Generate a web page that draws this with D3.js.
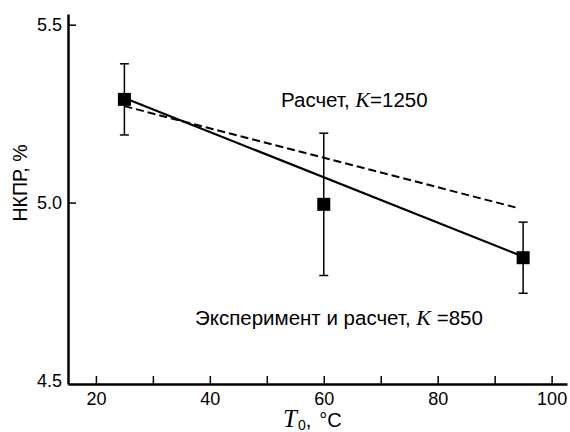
<!DOCTYPE html>
<html>
<head>
<meta charset="utf-8">
<script src="https://cdn.jsdelivr.net/npm/d3@7"></script>
<style>
  body { margin: 0; background: #fff; }
  svg { display: block; font-family: "Liberation Sans", Arial, sans-serif; }
  .k { font-family: "Liberation Serif", "Times New Roman", serif; font-style: italic; }
</style>
</head>
<body>
<svg id="chart" width="570" height="432"></svg>
<script>
// Экспериментальные точки
const expT = [25, 60, 95];
const expVal = [5.29, 4.995, 4.845];
const expErr = [0.1, 0.2, 0.1];

// Расчет, K=850 (сплошная)
const calc850T = [25, 95];
const calc850Val = [5.294, 4.848];

// Расчет, K=1250 (пунктир)
const calc1250T = [25, 94];
const calc1250Val = [5.271, 4.985];

const xTicks = [20, 30, 40, 50, 60, 70, 80, 90, 100];
const xTickLabels = [20, 40, 60, 80, 100];
const yTicks = [4.5, 5.0, 5.5];

const svg = d3.select('#chart');

const x = d3.scaleLinear().domain([15.1, 102.7]).range([68, 567]);
const y = d3.scaleLinear().domain([4.49, 5.53]).range([384, 14]);

// Оси
const xAxis = d3.axisBottom(x)
    .tickValues(xTicks)
    .tickSizeInner(-8)
    .tickSizeOuter(0)
    .tickPadding(8)
    .tickFormat(d => xTickLabels.includes(d) ? d : '');

const gx = svg.append('g')
    .attr('transform', `translate(0,${y.range()[0]})`)
    .call(xAxis);
gx.select('.domain').attr('stroke-width', 2.5);
gx.selectAll('.tick line').attr('stroke-width', 1.5);
gx.selectAll('text').attr('font-size', 18).attr('fill', '#000')
    .attr('font-family', '"Liberation Sans", Arial, sans-serif');

const yAxis = d3.axisLeft(y)
    .tickValues(yTicks)
    .tickSizeInner(-8)
    .tickSizeOuter(0)
    .tickPadding(6)
    .tickFormat(d3.format('.1f'));

const gy = svg.append('g')
    .attr('transform', `translate(${x.range()[0]},0)`)
    .call(yAxis);
gy.select('.domain').attr('stroke-width', 2.5);
gy.selectAll('.tick line').attr('stroke-width', 1.5);
gy.selectAll('.tick').filter(d => d === 4.5).select('line').remove();
gy.selectAll('text').attr('font-size', 18).attr('fill', '#000')
    .attr('font-family', '"Liberation Sans", Arial, sans-serif');

// Линии расчета
const line = d3.line().x(d => x(d[0])).y(d => y(d[1]));

svg.append('path')
    .datum(calc850T.map((t, i) => [t, calc850Val[i]]))
    .attr('d', line)
    .attr('fill', 'none')
    .attr('stroke', '#000')
    .attr('stroke-width', 2.2);

svg.append('path')
    .datum(calc1250T.map((t, i) => [t, calc1250Val[i]]))
    .attr('d', line)
    .attr('fill', 'none')
    .attr('stroke', '#000')
    .attr('stroke-width', 2)
    .attr('stroke-dasharray', '8,4');

// Погрешности
const pts = expT.map((t, i) => ({ t, v: expVal[i], e: expErr[i] }));

const eb = svg.append('g').selectAll('g')
    .data(pts)
    .enter()
    .append('g')
    .attr('stroke', '#000')
    .attr('stroke-width', 1.5);

eb.append('line')
    .attr('x1', d => x(d.t)).attr('x2', d => x(d.t))
    .attr('y1', d => y(d.v + d.e)).attr('y2', d => y(d.v - d.e));
eb.append('line')
    .attr('x1', d => x(d.t) - 4.5).attr('x2', d => x(d.t) + 4.5)
    .attr('y1', d => y(d.v + d.e)).attr('y2', d => y(d.v + d.e));
eb.append('line')
    .attr('x1', d => x(d.t) - 4.5).attr('x2', d => x(d.t) + 4.5)
    .attr('y1', d => y(d.v - d.e)).attr('y2', d => y(d.v - d.e));

// Маркеры
svg.append('g').selectAll('rect')
    .data(pts)
    .enter()
    .append('rect')
    .attr('x', d => x(d.t) - 6.5)
    .attr('y', d => y(d.v) - 6.5)
    .attr('width', 13)
    .attr('height', 13)
    .attr('fill', '#000');

// Подписи
const t1 = svg.append('text')
    .attr('x', 281).attr('y', 107)
    .attr('font-size', 20.5);
t1.append('tspan').text('Расчет, ');
t1.append('tspan').attr('class', 'k').attr('font-size', 22).text('K');
t1.append('tspan').text('=1250');

const t2 = svg.append('text')
    .attr('x', 195).attr('y', 325)
    .attr('font-size', 20.5);
t2.append('tspan').text('Эксперимент и расчет, ');
t2.append('tspan').attr('class', 'k').attr('font-size', 22).text('K');
t2.append('tspan').text(' =850');

// Подписи осей
const xl = svg.append('text')
    .attr('x', 283).attr('y', 427)
    .attr('font-size', 20);
xl.append('tspan').attr('class', 'k').attr('font-size', 25).text('T');
xl.append('tspan').attr('font-size', 14).attr('dx', 1).attr('dy', 3).text('0');
xl.append('tspan').attr('dy', -3).text(',');
xl.append('tspan').attr('dx', 8).text('°C');

svg.append('text')
    .attr('transform', 'translate(27,183) rotate(-90)')
    .attr('text-anchor', 'middle')
    .attr('font-size', 19.5)
    .text('НКПР, %');
</script>
</body>
</html>
